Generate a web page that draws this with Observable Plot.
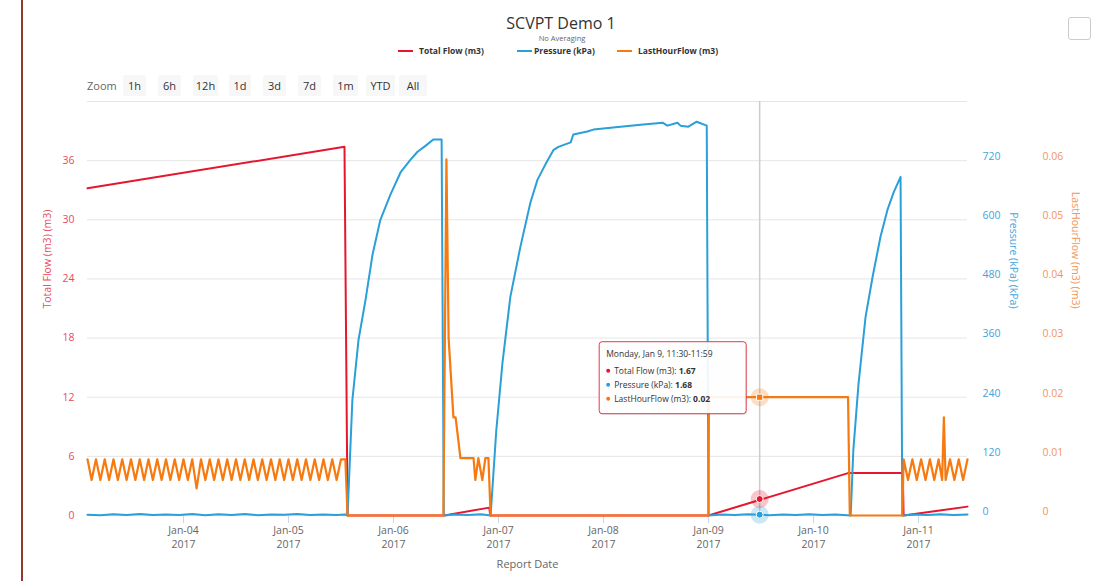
<!DOCTYPE html>
<html><head><meta charset="utf-8">
<script src="https://cdn.jsdelivr.net/npm/d3@7"></script>
<script src="https://cdn.jsdelivr.net/npm/@observablehq/plot@0.6"></script>
<style>
body{margin:0;background:#fff;font-family:"Open Sans",sans-serif;}
#page{position:relative;width:1094px;height:581px;overflow:hidden;background:#fff;}
#header{position:relative;height:100px;}
.abs{position:absolute;white-space:nowrap;}
.leg-line{position:absolute;height:2px;top:50px;width:15px;}
.leg-text{position:absolute;top:45px;font-size:8.5px;font-weight:bold;color:#333;line-height:12px;white-space:nowrap;}
.btn{position:absolute;top:75px;height:21px;line-height:21px;background:#f7f7f7;border-radius:2px;font-size:11px;color:#333;text-align:center;}
#edge{position:absolute;left:21px;top:0;width:2px;height:581px;background:#8e3a2c;}
#menu{position:absolute;left:1068px;top:17px;width:21px;height:21px;border:1px solid #ccc;border-radius:3px;background:#fff;}
</style></head><body>
<div id="page">
 <div id="header">
  <div class="abs" style="left:461px;width:200px;top:12px;text-align:center;font-size:16px;color:#333;line-height:22px">SCVPT Demo 1</div>
  <div class="abs" style="left:462px;width:200px;top:33px;text-align:center;font-size:7.5px;color:#666;line-height:10px">No Averaging</div>
  <div class="leg-line" style="left:398px;background:#e5172f"></div>
  <div class="leg-text" style="left:419px">Total Flow (m3)</div>
  <div class="leg-line" style="left:517px;background:#2a9fd8"></div>
  <div class="leg-text" style="left:534px">Pressure (kPa)</div>
  <div class="leg-line" style="left:617px;background:#f67a0f"></div>
  <div class="leg-text" style="left:638px">LastHourFlow (m3)</div>
  <div class="abs" style="left:87px;top:75px;line-height:21px;font-size:11px;color:#666">Zoom</div>
  <div class="btn" style="left:123px;width:23px">1h</div>
  <div class="btn" style="left:158px;width:23px">6h</div>
  <div class="btn" style="left:193px;width:25px">12h</div>
  <div class="btn" style="left:229px;width:22px">1d</div>
  <div class="btn" style="left:263px;width:23px">3d</div>
  <div class="btn" style="left:298px;width:23px">7d</div>
  <div class="btn" style="left:333px;width:25px">1m</div>
  <div class="btn" style="left:366px;width:29px">YTD</div>
  <div class="btn" style="left:399px;width:28px">All</div>
 </div>
 <div id="chart"></div>
 <div id="edge"></div>
 <div id="menu"></div>
</div>
<script>
// ---- data (time in hours after 2017-01-03 00:00 UTC) ----
const xStartHour = 2.06, xEndHour = 203.2;
const xTickHours = [24, 48, 72, 96, 120, 144, 168, 192];
const xTickLabels = ["Jan-04", "Jan-05", "Jan-06", "Jan-07", "Jan-08", "Jan-09", "Jan-10", "Jan-11"];
const xTickYears = ["2017", "2017", "2017", "2017", "2017", "2017", "2017", "2017"];
const leftMax = 42, pressureMax = 840, lhfMax = 0.07;
const gridValues = [0, 6, 12, 18, 24, 30, 36, 42];
const leftTickValues = [0, 6, 12, 18, 24, 30, 36];
const leftTickLabels = ["0", "6", "12", "18", "24", "30", "36"];
const pressureTickLabels = ["0", "120", "240", "360", "480", "600", "720"];
const lhfTickLabels = ["0", "0.01", "0.02", "0.03", "0.04", "0.05", "0.06"];

const totalFlow = [
  [2.06, 33.2], [60.8, 37.4], [61.5, 0], [83.6, 0], [93.9, 0.8], [94.1, 0],
  [144.0, 0], [175.9, 4.3], [188.4, 4.3], [188.6, 0], [203.2, 0.9]
];
const pressure = [
  [2.06, 1.5], [5, 0.5], [8, 2.5], [11, 1], [14, 3], [17, 0.8], [20, 2], [23, 1.2], [26, 3], [29, 0.6],
  [32, 2.4], [35, 1], [38, 2.8], [41, 0.7], [44, 2], [47, 1.3], [50, 3], [53, 0.9], [56, 2.2], [59, 1], [61.0, 2],
  [61.5, 0], [62.6, 234], [64.0, 356], [65.6, 437], [67.2, 529], [69.0, 600], [71.3, 651], [73.6, 696],
  [75.9, 722], [77.5, 738], [79.3, 750], [81.1, 763], [83.0, 763], [83.5, 0],
  [86, 2], [89, 0.8], [92, 2.5], [94.2, 0],
  [95.5, 173], [96.9, 309], [98.7, 443], [101.0, 545], [103.3, 635], [104.9, 681], [106.7, 712],
  [108.6, 742], [109.7, 748], [112.5, 757], [113.1, 773], [116.3, 779], [117.7, 783], [123.9, 789],
  [128.5, 793], [133.5, 797], [134.6, 791], [136.9, 797], [137.6, 791], [139.4, 789], [141.3, 799],
  [143.6, 791], [144.0, 0],
  [147, 2], [150, 0.8], [153, 2.4], [155.7, 1.68], [158, 0.6], [161, 2.2], [164, 1], [167, 2.6],
  [170, 0.9], [173, 2], [176.5, 0],
  [177.1, 132], [178.3, 268], [179.9, 403], [181.5, 484], [183.3, 565], [184.9, 620], [186.3, 655],
  [187.9, 687], [188.3, 0],
  [191, 2], [194, 0.8], [197, 2.5], [200, 1], [203.2, 2]
];
const lastHourFlow = [
  [2.06, 0.0095], [3, 0.006], [4, 0.0095], [5, 0.006], [6, 0.0095], [7, 0.006], [8, 0.0095], [9, 0.006],
  [10, 0.0095], [11, 0.006], [12, 0.0095], [13, 0.006], [14, 0.0095], [15, 0.006], [16, 0.0095], [17, 0.006],
  [18, 0.0095], [19, 0.006], [20, 0.0095], [21, 0.006], [22, 0.0095], [23, 0.006], [24, 0.0095], [25, 0.006],
  [26, 0.0095], [27, 0.0046], [28, 0.0095], [29, 0.006], [30, 0.0095], [31, 0.006], [32, 0.0095], [33, 0.006],
  [34, 0.0095], [35, 0.006], [36, 0.0095], [37, 0.006], [38, 0.0095], [39, 0.006], [40, 0.0095], [41, 0.006],
  [42, 0.0095], [43, 0.006], [44, 0.0095], [45, 0.006], [46, 0.0095], [47, 0.006], [48, 0.0095], [49, 0.006],
  [50, 0.0095], [51, 0.006], [52, 0.0095], [53, 0.006], [54, 0.0095], [55, 0.006], [56, 0.0095], [57, 0.006],
  [58, 0.0095], [59, 0.006], [60, 0.0095], [61, 0.0095], [61.5, 0],
  [83.4, 0], [84.1, 0.0602], [84.6, 0.030], [85.7, 0.0166], [86.2, 0.0166], [87.3, 0.0097], [90.3, 0.0097],
  [90.7, 0.006], [91.4, 0.0097], [92.3, 0.006], [93.0, 0.0097], [93.7, 0.0097], [94.2, 0],
  [144.0, 0], [144.1, 0.02], [175.9, 0.02], [176.3, 0],
  [188.3, 0], [188.6, 0.0095], [189.6, 0.006], [190.6, 0.0095], [191.6, 0.006], [192.6, 0.0095], [193.6, 0.006],
  [194.6, 0.0095], [195.6, 0.006], [196.6, 0.0095], [197.4, 0.006], [197.8, 0.0166], [198.2, 0.006],
  [199.2, 0.0095], [200.2, 0.006], [201.2, 0.0095], [202.2, 0.006], [203.2, 0.0095]
];
const crossHour = 155.7;
const tooltipTitle = "Monday, Jan 9, 11:30-11:59";
const tooltipNames = ["Total Flow (m3): ", "Pressure (kPa): ", "LastHourFlow (m3): "];
const tooltipValues = [1.67, 1.68, 0.02];

// ---- helpers ----
const base = Date.UTC(2017, 0, 3);
const T = h => new Date(base + h * 3600000);
const toP = v => v * leftMax / pressureMax;
const toL = v => v * leftMax / lhfMax;
const RED = "#e5172f", BLUE = "#2a9fd8", ORANGE = "#f67a0f";
const FONT = "'Open Sans', sans-serif";

const plot = Plot.plot({
  width: 1094, height: 481,
  marginLeft: 87, marginRight: 127, marginTop: 1, marginBottom: 66,
  style: {fontFamily: FONT, fontSize: "10.5px", overflow: "visible", background: "transparent"},
  x: {type: "utc", domain: [T(xStartHour), T(xEndHour)]},
  y: {domain: [0, leftMax]},
  marks: [
    Plot.gridY(gridValues, {stroke: "#e6e6e6", strokeOpacity: 1, strokeWidth: 1}),
    Plot.axisY(leftTickValues, {anchor: "left", tickSize: 0, tickPadding: 13, label: null, color: "#e84a5f",
      tickFormat: d => leftTickLabels[leftTickValues.indexOf(d)]}),
    Plot.axisY(leftTickValues, {anchor: "right", tickSize: 0, tickPadding: 15, label: null, color: "#3fa4da",
      textAnchor: "start", dy: -4, tickFormat: d => pressureTickLabels[leftTickValues.indexOf(d)]}),
    Plot.axisY(leftTickValues, {anchor: "right", tickSize: 0, tickPadding: 75, label: null, color: "#f3955a",
      textAnchor: "start", dy: -4, tickFormat: d => lhfTickLabels[leftTickValues.indexOf(d)]}),
    Plot.axisX(xTickHours.map(T), {tickSize: 8, tickFormat: () => "", label: null, color: "#ccd6eb"}),
    Plot.text(xTickHours, {x: d => T(d), text: (d, i) => xTickLabels[i], frameAnchor: "bottom", dy: 18, fill: "#666", fontSize: 10.5}),
    Plot.text(xTickHours, {x: d => T(d), text: (d, i) => xTickYears[i], frameAnchor: "bottom", dy: 32, fill: "#666", fontSize: 10.5}),
    Plot.text(["Report Date"], {frameAnchor: "bottom", dy: 52, fill: "#666", fontSize: 11}),
    Plot.text(["Total Flow (m3) (m3)"], {frameAnchor: "left", dx: -40, rotate: -90, fill: "#e84a5f", fontSize: 10.5}),
    Plot.text(["Pressure (kPa) (kPa)"], {frameAnchor: "right", dx: 46, rotate: 90, fill: "#3fa4da", fontSize: 10.5}),
    Plot.text(["LastHourFlow (m3) (m3)"], {frameAnchor: "right", dx: 108, rotate: 90, fill: "#f3955a", fontSize: 10.5}),
    Plot.ruleX([crossHour], {x: d => T(d), stroke: "#cccccc", strokeWidth: 1.5}),
    Plot.line(totalFlow, {x: d => T(d[0]), y: d => d[1], stroke: RED, strokeWidth: 2}),
    Plot.line(pressure, {x: d => T(d[0]), y: d => toP(d[1]), stroke: BLUE, strokeWidth: 2}),
    Plot.line(lastHourFlow, {x: d => T(d[0]), y: d => toL(d[1]), stroke: ORANGE, strokeWidth: 2.2}),
    Plot.dot([tooltipValues[0]], {x: () => T(crossHour), y: d => d, r: 9, fill: RED, fillOpacity: 0.25}),
    Plot.dot([tooltipValues[1]], {x: () => T(crossHour), y: d => toP(d), r: 9, fill: BLUE, fillOpacity: 0.25}),
    Plot.dot([tooltipValues[2]], {x: () => T(crossHour), y: d => toL(d), r: 9, fill: ORANGE, fillOpacity: 0.25}),
    Plot.dot([tooltipValues[0]], {x: () => T(crossHour), y: d => d, r: 3.5, fill: RED, stroke: "white", strokeWidth: 1}),
    Plot.dot([tooltipValues[1]], {x: () => T(crossHour), y: d => toP(d), r: 3.5, fill: BLUE, stroke: "white", strokeWidth: 1}),
    Plot.dot([tooltipValues[2]], {x: () => T(crossHour), y: d => toL(d), r: 3.5, symbol: "square", fill: ORANGE, stroke: "white", strokeWidth: 1})
  ]
});
document.getElementById("chart").appendChild(plot);

// ---- tooltip anchored to the hover point via the plot's scales ----
const svg = d3.select(plot);
const cx = plot.scale("x").apply(T(crossHour));
const oy = plot.scale("y").apply(toL(tooltipValues[2]));
const bx = cx - 160, by = oy - 55, bw = 147, bh = 72;
const g = svg.append("g").attr("font-family", FONT).attr("font-size", 8.5).attr("text-anchor", "start");
g.append("rect").attr("x", bx + 1).attr("y", by + 1).attr("width", bw).attr("height", bh).attr("rx", 3)
  .attr("fill", "#000").attr("fill-opacity", 0.08);
g.append("rect").attr("x", bx).attr("y", by).attr("width", bw).attr("height", bh).attr("rx", 3)
  .attr("fill", "rgba(255,255,255,0.92)").attr("stroke", "#e0394a").attr("stroke-width", 1);
g.append("text").attr("x", bx + 7).attr("y", by + 15).attr("fill", "#333").attr("text-anchor", "start").text(tooltipTitle);
const dotColors = [RED, BLUE, ORANGE];
tooltipNames.forEach((name, i) => {
  const yy = by + 29 + i * 14;
  g.append("circle").attr("cx", bx + 9).attr("cy", yy).attr("r", 2).attr("fill", dotColors[i]);
  const t = g.append("text").attr("x", bx + 15).attr("y", yy + 3).attr("fill", "#333").attr("text-anchor", "start");
  t.append("tspan").text(name);
  t.append("tspan").attr("font-weight", "bold").text(String(tooltipValues[i]));
});
</script>
</body></html>
